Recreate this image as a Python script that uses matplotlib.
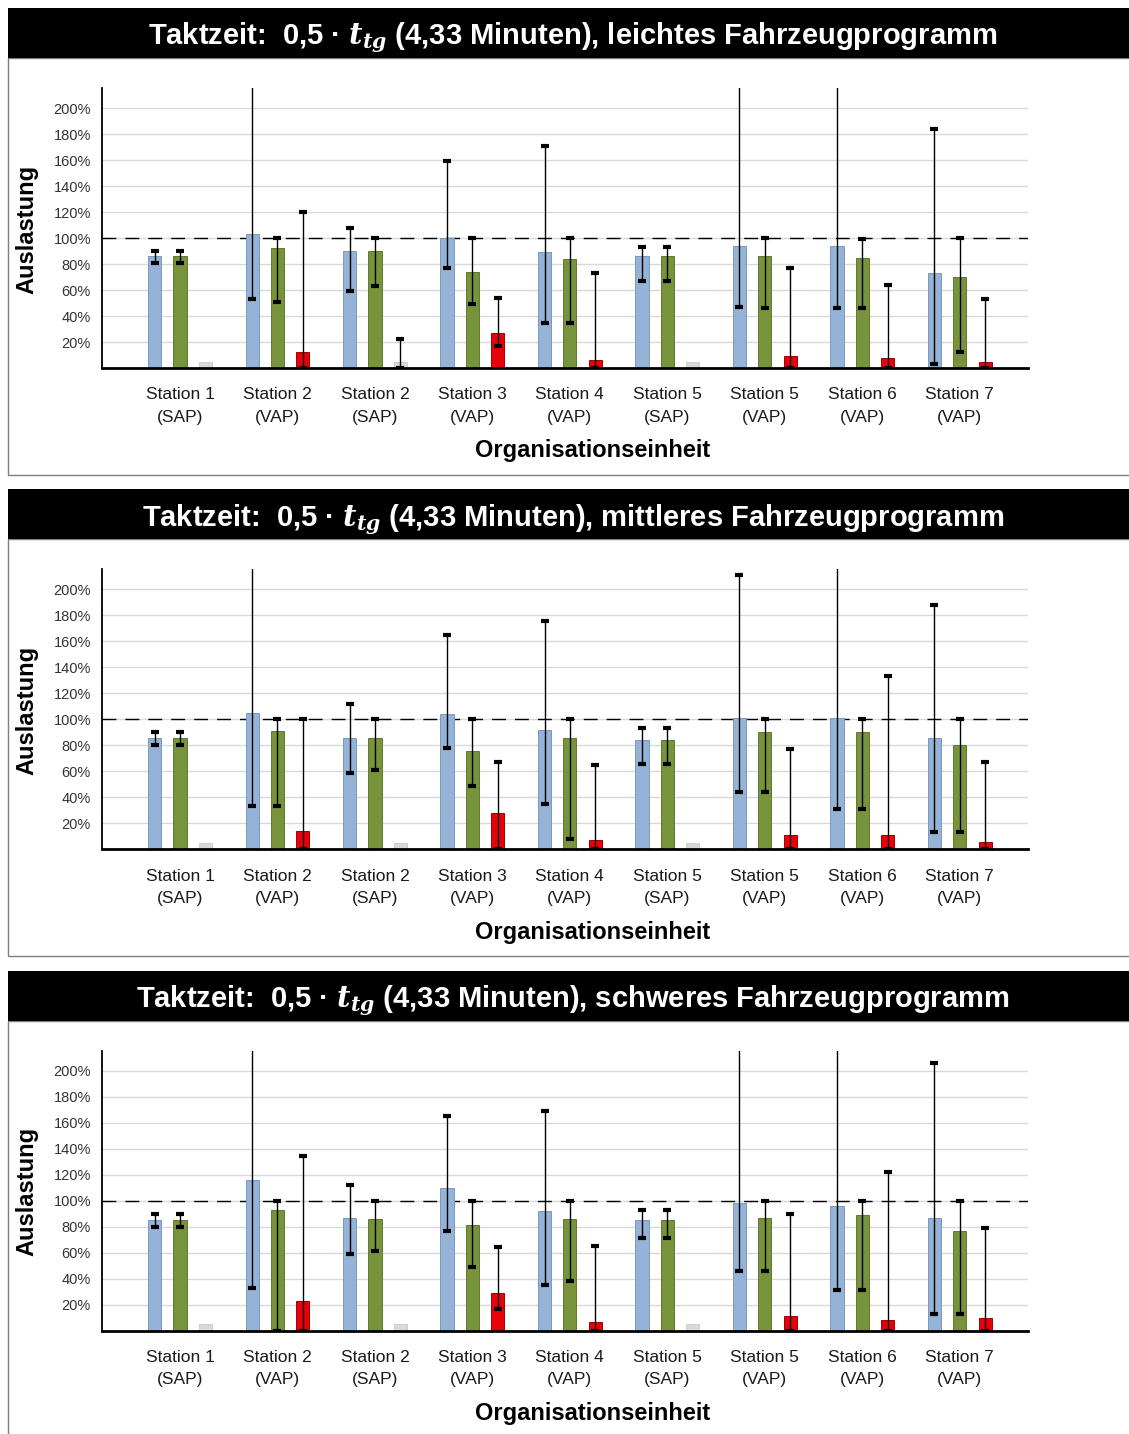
import numpy as np
import matplotlib
matplotlib.use("Agg")
import matplotlib.pyplot as plt
from matplotlib.patches import Rectangle

plt.rcParams["font.family"] = ["Liberation Sans", "DejaVu Sans"]
plt.rcParams["mathtext.fontset"] = "dejavuserif"

nan = np.nan

# Organisational units along the x axis
stations = ["Station 1", "Station 2", "Station 2", "Station 3", "Station 4",
            "Station 5", "Station 5", "Station 6", "Station 7"]
units = ["SAP", "VAP", "SAP", "VAP", "VAP", "SAP", "VAP", "VAP", "VAP"]
programs = ["leichtes", "mittleres", "schweres"]
y_ticks = [20, 40, 60, 80, 100, 120, 140, 160, 180, 200]

# Utilisation in % per programme: bar value, lower and upper whisker
# (whiskers above the axis top run off the plot)
light_blue = [86, 103, 90, 100, 89, 86, 94, 94, 73]
light_blue_lo = [81, 53, 59, 77, 35, 67, 47, 46, 3]
light_blue_hi = [90, 260, 108, 159, 171, 93, 260, 260, 184]
light_green = [86, 92, 90, 74, 84, 86, 86, 85, 70]
light_green_lo = [81, 51, 63, 49, 35, 67, 46, 46, 12]
light_green_hi = [90, 100, 100, 100, 100, 93, 100, 99, 100]
light_third = [5, 12, 5, 27, 6, 5, 9, 8, 5]
light_third_lo = [nan, 0, 0, 17, 0, nan, 0, 0, 0]
light_third_hi = [nan, 120, 22, 54, 73, nan, 77, 64, 53]

medium_blue = [86, 105, 86, 104, 92, 84, 101, 101, 86]
medium_blue_lo = [80, 33, 59, 78, 35, 66, 44, 31, 13]
medium_blue_hi = [90, 260, 112, 165, 176, 93, 211, 260, 188]
medium_green = [86, 91, 86, 76, 86, 84, 90, 90, 80]
medium_green_lo = [80, 33, 61, 49, 8, 66, 44, 31, 13]
medium_green_hi = [90, 100, 100, 100, 100, 93, 100, 100, 100]
medium_third = [5, 14, 5, 28, 7, 5, 11, 11, 6]
medium_third_lo = [nan, 0, nan, 0, 0, nan, 0, 0, 0]
medium_third_hi = [nan, 100, nan, 67, 65, nan, 77, 133, 67]

heavy_blue = [85, 116, 87, 110, 92, 85, 98, 96, 87]
heavy_blue_lo = [80, 33, 59, 77, 35, 71, 46, 31, 13]
heavy_blue_hi = [90, 260, 112, 165, 169, 93, 260, 260, 206]
heavy_green = [85, 93, 86, 81, 86, 85, 87, 89, 77]
heavy_green_lo = [80, 0, 61, 49, 38, 71, 46, 31, 13]
heavy_green_hi = [90, 100, 100, 100, 100, 93, 100, 100, 100]
heavy_third = [5, 23, 5, 29, 7, 5, 11, 8, 10]
heavy_third_lo = [nan, 0, nan, 17, 0, nan, 0, 0, 0]
heavy_third_hi = [nan, 134, nan, 64, 65, nan, 90, 122, 79]

panels = [
    (light_blue, light_blue_lo, light_blue_hi,
     light_green, light_green_lo, light_green_hi,
     light_third, light_third_lo, light_third_hi),
    (medium_blue, medium_blue_lo, medium_blue_hi,
     medium_green, medium_green_lo, medium_green_hi,
     medium_third, medium_third_lo, medium_third_hi),
    (heavy_blue, heavy_blue_lo, heavy_blue_hi,
     heavy_green, heavy_green_lo, heavy_green_hi,
     heavy_third, heavy_third_lo, heavy_third_hi),
]

BLUE, BLUE_EDGE = "#95B3D7", "#7A98BE"
GREEN, GREEN_EDGE = "#77933C", "#5F7A2C"
RED, RED_EDGE = "#E8000B", "#A00000"
GREY, GREY_EDGE = "#D9D9D9", "#CFCFCF"

W, H = 1129, 1434
fig = plt.figure(figsize=(W / 100, H / 100), dpi=100)


def fx(px):
    return px / W


def fy(py):
    return 1 - py / H


def add_errors(ax, x, vals, lo, hi):
    vals = np.asarray(vals, float)
    lo = np.asarray(lo, float)
    hi = np.asarray(hi, float)
    ok = ~np.isnan(lo)
    ax.errorbar(x[ok], vals[ok], yerr=[vals[ok] - lo[ok], hi[ok] - vals[ok]],
                fmt="none", ecolor="black", elinewidth=1.0, capsize=3.0,
                capthick=3.0, zorder=4)


step = 481.3
x = np.arange(len(stations))
for p, (prog, data) in enumerate(zip(programs, panels)):
    dy = p * step
    # frame and black title bar
    fig.patches.append(Rectangle((fx(8), fy(475 + dy)), fx(1135) - fx(8),
                                 fy(58 + dy) - fy(475 + dy), transform=fig.transFigure,
                                 facecolor="white", edgecolor="#7F7F7F", linewidth=1.0,
                                 zorder=0))
    fig.patches.append(Rectangle((fx(8), fy(58 + dy)), fx(1135) - fx(8),
                                 fy(8 + dy) - fy(58 + dy), transform=fig.transFigure,
                                 facecolor="black", edgecolor="none", zorder=1))
    fig.text(fx(573), fy(38 + dy),
             "Taktzeit:  0,5 \u00b7 $\\mathbfit{t}_{\\mathbfit{tg}}$ (4,33 Minuten), "
             + prog + " Fahrzeugprogramm",
             color="white", fontsize=21, fontweight="bold", ha="center", va="center",
             zorder=3)

    ax = fig.add_axes([fx(102), fy(368 + dy), fx(1028) - fx(102),
                       fy(88 + dy) - fy(368 + dy)])
    ax.set_zorder(5)
    ax.patch.set_alpha(0)
    ax.set_xlim(-0.8, 8.7)
    ax.set_ylim(0, 215.5)
    ax.set_yticks(y_ticks)
    ax.set_yticklabels([f"{v}%" for v in y_ticks], color="#333333", fontsize=10.5)
    ax.yaxis.grid(True, color="#D9D9D9", linewidth=1.0, zorder=0)
    ax.set_axisbelow(True)
    ax.tick_params(axis="y", length=0, pad=8)
    ax.set_xticks(x)
    ax.set_xticklabels([f"{s}\n({u})" for s, u in zip(stations, units)],
                       fontsize=12.5, color="#1A1A1A", linespacing=1.6)
    ax.tick_params(axis="x", length=0, pad=14)
    for side in ("top", "right"):
        ax.spines[side].set_visible(False)
    ax.spines["left"].set_color("black")
    ax.spines["left"].set_linewidth(1.3)
    ax.spines["bottom"].set_color("black")
    ax.spines["bottom"].set_linewidth(2.0)
    for s in ax.spines.values():
        s.set_zorder(6)

    (b, blo, bhi, g, glo, ghi, t, tlo, thi) = data
    ax.bar(x - 0.26, b, width=0.135, color=BLUE, edgecolor=BLUE_EDGE,
           linewidth=0.7, zorder=3)
    ax.bar(x, g, width=0.135, color=GREEN, edgecolor=GREEN_EDGE,
           linewidth=0.7, zorder=3)
    third_col = [RED if u == "VAP" else GREY for u in units]
    third_edge = [RED_EDGE if u == "VAP" else GREY_EDGE for u in units]
    ax.bar(x + 0.26, t, width=0.135, color=third_col, edgecolor=third_edge,
           linewidth=0.7, zorder=3)
    add_errors(ax, x - 0.26, b, blo, bhi)
    add_errors(ax, x, g, glo, ghi)
    add_errors(ax, x + 0.26, t, tlo, thi)

    ax.axhline(100, color="black", linewidth=1.0, dashes=(10, 6.5), zorder=2.5)

    fig.text(fx(593), fy(451 + dy), "Organisationseinheit", fontsize=17,
             fontweight="bold", ha="center", va="center", zorder=3)
    fig.text(fx(27), fy(229 + dy), "Auslastung", fontsize=17, fontweight="bold",
             rotation=90, ha="center", va="center", zorder=3)

fig.savefig("out.png", dpi=100)
